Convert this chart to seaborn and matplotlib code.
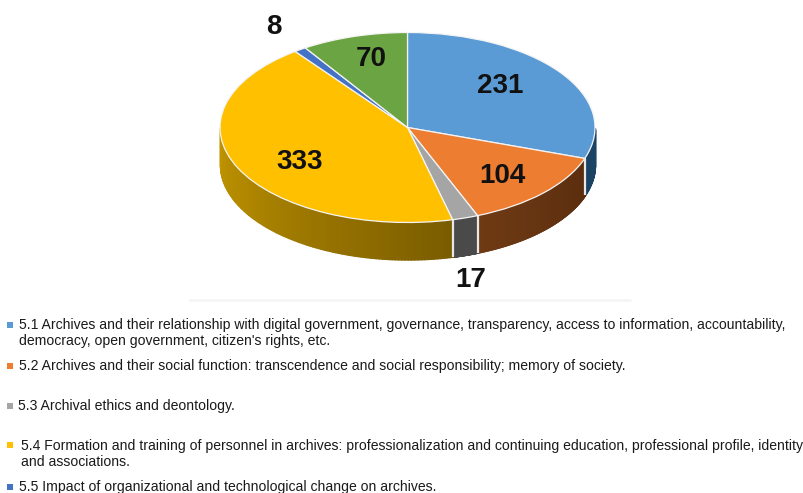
"""
plot.py

Pseudo-3D pie of archive topics with a long text legend underneath.
"""

import matplotlib

matplotlib.use("Agg")

import matplotlib.pyplot as plt
import matplotlib.transforms as mtransforms
import numpy as np
import seaborn as sns

# =========================
# DATA
# =========================

values = [231, 104, 17, 333, 8, 70]

top_colors = ["#5B9BD5", "#ED7D31", "#A5A5A5", "#FFC000", "#4472C4", "#6BA543"]

legend_labels = [
    "5.1 Archives and their relationship with digital government, governance, transparency, access to information, accountability,\n"
    "democracy, open government, citizen's rights, etc.",
    "5.2 Archives and their social function: transcendence and social responsibility; memory of society.",
    "5.3 Archival ethics and deontology.",
    "5.4 Formation and training of personnel in archives: professionalization and continuing education, professional profile, identity\n"
    "and associations.",
    "5.5 Impact of organizational and technological change on archives.",
]

# =========================
# LAYOUT (pixels of the 804x493 image)
# =========================

WIDTH, HEIGHT = 804, 493
CX, CY, RX, RY = 407.5, 127.5, 187.5, 95.0
DEPTH = 37 / RY

value_label_xy = [(500, 86), (502, 176), (471, 280), (300, 162), (274, 27), (371, 59)]
legend_text_xy = [(19, 333), (19, 366), (18, 406), (21, 454), (19, 487)]
legend_mark_xy = [(10.5, 325), (10.5, 366), (10.5, 406), (10.5, 445), (10.5, 487)]

side_ramps = [
    ["#1F4E79", "#1A4263"],
    ["#5A2D0E", "#6E3A14"],
    ["#4A4A4A", "#4A4A4A"],
    ["#7A5C00", "#B38A00", "#DCA800"],
    ["#264478", "#264478"],
    ["#43682B", "#43682B"],
]

sns.set_theme(style="white")
plt.rcParams["font.family"] = ["Liberation Sans", "DejaVu Sans"]

fig = plt.figure(figsize=(WIDTH / 100, HEIGHT / 100), dpi=100)
ax = fig.add_axes([0, 0, 1, 1])

# pixel coordinates, origin top left
px = mtransforms.Affine2D().scale(1 / WIDTH, -1 / HEIGHT).translate(0, 1) + fig.transFigure

# side wall of the disc, one thin strip per step so the shading can run along it
edges = 90 - 360 * np.concatenate([[0], np.cumsum(values)]) / sum(values)
for start, stop, ramp in zip(edges[:-1], edges[1:], side_ramps):
    theta = np.radians(np.linspace(start, stop, 160))
    shades = sns.blend_palette(ramp, len(theta))
    for i in range(len(theta) - 1):
        seg = theta[i : i + 2]
        if np.sin(seg).max() > 0:
            continue
        x = np.cos(seg)
        ax.fill_between(
            x, np.sin(seg), np.sin(seg) - DEPTH,
            color=shades[i], lw=1.0, edgecolor=shades[i],
        )

for edge in np.radians(edges):
    if np.sin(edge) < 0:
        ax.plot(
            [np.cos(edge)] * 2,
            [np.sin(edge), np.sin(edge) - DEPTH],
            color="#E8E8E8",
            lw=1.6,
            solid_capstyle="butt",
        )

ax.pie(
    values,
    colors=top_colors,
    startangle=90,
    counterclock=False,
    wedgeprops={"edgecolor": "#F4F4F4", "linewidth": 0.9},
)

# squash the disc: one data unit is RX wide and RY high
ax.set_aspect("auto")
ax.set_xlim(-CX / RX, (WIDTH - CX) / RX)
ax.set_ylim(-(HEIGHT - CY) / RY, CY / RY)
ax.axis("off")

for value, (x, y) in zip(values, value_label_xy):
    ax.text(
        x, y, str(value), transform=px, ha="center", va="center",
        fontsize=20, fontweight="bold", color="#111111",
    )

# faint leftover line under the chart
ax.plot([190, 630], [300, 300], transform=px, color="#F5F5F5", lw=2)

legend_colors = top_colors[:5]
for label, color, (tx, ty), (mx, my) in zip(
    legend_labels, legend_colors, legend_text_xy, legend_mark_xy
):
    ax.text(
        tx, ty, label, transform=px, ha="left", va="center",
        fontsize=10.1, color="#1A1A1A", linespacing=1.23,
    )
    ax.scatter([mx], [my], transform=px, marker="s", s=24, color=color, linewidths=0)

fig.savefig("out.png", dpi=100)
plt.close(fig)
